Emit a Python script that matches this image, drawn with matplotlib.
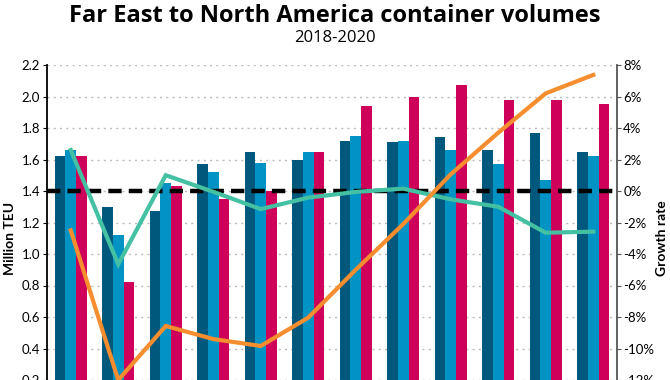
import numpy as np
import matplotlib
matplotlib.use('Agg')
import matplotlib.pyplot as plt

# monthly volumes, million TEU
months = ['Jan', 'Feb', 'Mar', 'Apr', 'May', 'Jun', 'Jul', 'Aug', 'Sep', 'Oct', 'Nov', 'Dec']
teu_2018 = [1.62, 1.30, 1.27, 1.57, 1.65, 1.60, 1.72, 1.71, 1.74, 1.66, 1.77, 1.65]
teu_2019 = [1.66, 1.12, 1.45, 1.52, 1.58, 1.65, 1.75, 1.72, 1.66, 1.57, 1.47, 1.62]
teu_2020 = [1.62, 0.82, 1.43, 1.35, 1.40, 1.65, 1.94, 2.00, 2.07, 1.98, 1.98, 1.95]

# growth rates, %
growth_a = [2.6, -4.65, 1.0, -0.05, -1.15, -0.42, -0.06, 0.15, -0.53, -1.0, -2.65, -2.58]
growth_b = [-2.5, -12.0, -8.57, -9.4, -9.84, -8.04, -5.0, -2.1, 1.06, 3.7, 6.2, 7.37]

c_2018 = '#00587c'
c_2019 = '#0093c4'
c_2020 = '#cf005a'
c_teal = '#44c0a2'
c_orange = '#f68d2e'

plt.rcParams['font.family'] = ['Lato', 'DejaVu Sans']

fig = plt.figure(figsize=(6.7, 3.8), dpi=100)
# axes runs below the bottom edge, the picture is cropped there
ax = fig.add_axes([47 / 670, 1 - 411.5 / 380, 570 / 670, 346.5 / 380])

x = np.arange(len(months))
w = 0.225
ax.bar(x - w, teu_2018, w, color=c_2018, zorder=2)
ax.bar(x, teu_2019, w, color=c_2019, zorder=2)
ax.bar(x + w, teu_2020, w, color=c_2020, zorder=2)

ax.set_xlim(-0.5, 11.5)
ax.set_ylim(0, 2.2)
ax.set_yticks(np.arange(0.2, 2.21, 0.2))
ax.set_yticklabels(['%.1f' % v for v in np.arange(0.2, 2.21, 0.2)])
ax.yaxis.grid(True, linestyle=(0, (1.5, 3)), color='#bbbbbb', linewidth=1, zorder=0)
ax.set_xticks([])
ax.axhline(1.4, color='black', linewidth=3.2, linestyle=(0, (3, 1.6)), zorder=4)
for s in ['top', 'right', 'bottom']:
    ax.spines[s].set_visible(False)
ax.spines['left'].set_color('black')
ax.spines['left'].set_linewidth(1.3)
ax.tick_params(axis='y', labelsize=9.5, length=3, pad=2)
ax.set_ylabel('Million TEU', fontsize=10, fontweight='bold', labelpad=4)

ax2 = ax.twinx()
ax2.set_ylim(-14, 8)
ax2.plot(x, growth_a, color=c_teal, linewidth=3, zorder=5, solid_joinstyle='miter')
ax2.plot(x, growth_b, color=c_orange, linewidth=3, zorder=5, solid_joinstyle='miter')
ax2.set_yticks(np.arange(-12, 9, 2))
ax2.set_yticklabels(['%d%%' % v for v in np.arange(-12, 9, 2)])
for s in ['top', 'left', 'bottom']:
    ax2.spines[s].set_visible(False)
ax2.spines['right'].set_color('#555555')
ax2.spines['right'].set_linewidth(1.3)
ax2.tick_params(axis='y', labelsize=9.5, length=3, pad=1.5, color='#555555')
ax2.set_ylabel('Growth rate', fontsize=10, fontweight='bold', labelpad=1)

fig.text(0.5, 0.958, 'Far East to North America container volumes', ha='center', va='center',
         fontsize=17, fontweight='bold', family=['Open Sans', 'DejaVu Sans'])
fig.text(0.5, 0.9, '2018-2020', ha='center', va='center', fontsize=12,
         family=['Open Sans', 'DejaVu Sans'])

plt.savefig('out.png', dpi=100)
